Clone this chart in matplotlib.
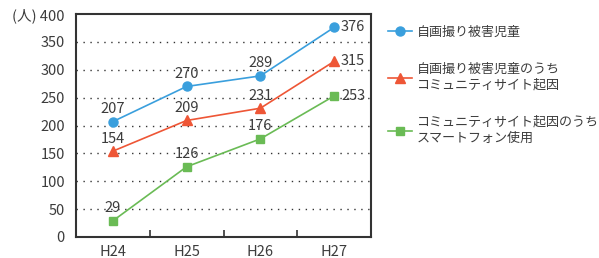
import matplotlib
matplotlib.use('Agg')
import matplotlib.pyplot as plt

plt.rcParams['font.family'] = ['Noto Sans CJK JP', 'DejaVu Sans']

years = ['H24', 'H25', 'H26', 'H27']
jiga = [207, 270, 289, 376]
community = [154, 209, 231, 315]
smartphone = [29, 126, 176, 253]
labels = ['自画撮り被害児童',
          '自画撮り被害児童のうち\nコミュニティサイト起因',
          'コミュニティサイト起因のうち\nスマートフォン使用']
yticks = [0, 50, 100, 150, 200, 250, 300, 350, 400]

txt = '#3c3c3c'
my_dpi = 100
fig = plt.figure(figsize=(599/my_dpi, 258/my_dpi), dpi=my_dpi)
ax = fig.add_axes([76/599, 1-237/258, (371-76)/599, (237-14)/258])

x = list(range(len(years)))
series = [(jiga, '#3a9fdd', 'o', 6.5), (community, '#ee5636', '^', 6.5), (smartphone, '#6abb55', 's', 6)]
for (vals, col, mk, ms), lab in zip(series, labels):
    ax.plot(x, vals, color=col, marker=mk, markersize=ms, lw=1.2, label=lab)
    for i, v in enumerate(vals):
        if i == len(vals) - 1:
            ax.annotate(str(v), (i, v), xytext=(5, 0), textcoords='offset points',
                        ha='left', va='center', fontsize=10.5, color=txt)
        else:
            ax.annotate(str(v), (i, v), xytext=(0, 4), textcoords='offset points',
                        ha='center', va='bottom', fontsize=10.5, color=txt)

ax.set_xlim(-0.5, 3.5)
ax.set_ylim(0, 400)
ax.set_yticks(yticks)
ax.set_yticklabels([str(t) for t in yticks[:-1]] + ['(人) 400'])
ax.set_xticks(x)
ax.set_xticklabels(years)
ax.set_xticks([0.5, 1.5, 2.5], minor=True)
ax.tick_params(axis='x', which='major', length=0, pad=6, labelsize=10.5, labelcolor=txt)
ax.tick_params(axis='x', which='minor', direction='in', length=5, width=1.2, color='#333333')
ax.tick_params(axis='y', length=0, pad=8, labelsize=10.5, labelcolor=txt)
for y in yticks[1:-1]:
    ax.axhline(y, color='#333333', lw=1, ls=(0, (1, 4)), zorder=0)
for s in ax.spines.values():
    s.set_color('#333333')
    s.set_linewidth(1.5)

leg = ax.legend(loc='upper left', bbox_to_anchor=(388/599, 1-26/258), bbox_transform=fig.transFigure,
                frameon=False, fontsize=9.4, labelcolor=txt, handlelength=1.8, handletextpad=0.4,
                labelspacing=1.8, borderaxespad=0, borderpad=0)
for t in leg.get_texts():
    t.set_linespacing(1.35)

fig.savefig('out.png', dpi=my_dpi)
